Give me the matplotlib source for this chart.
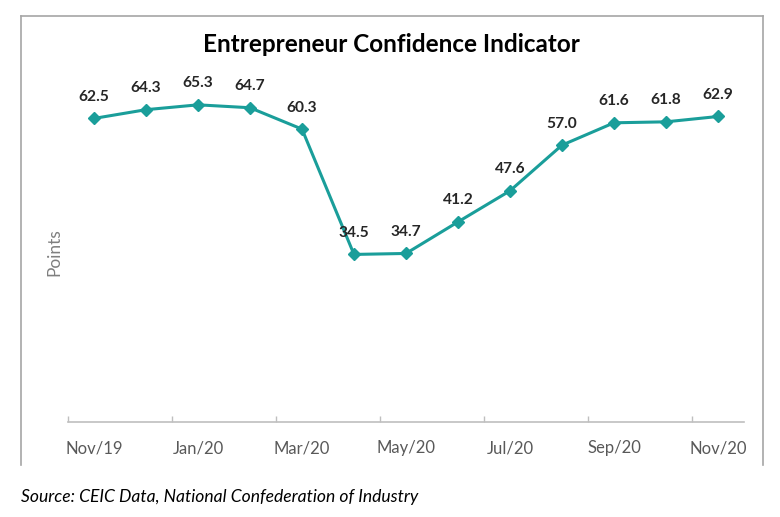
import matplotlib
matplotlib.use("Agg")
import matplotlib.pyplot as plt
from matplotlib.lines import Line2D

months = ["Nov/19", "Dec/19", "Jan/20", "Feb/20", "Mar/20", "Apr/20", "May/20",
          "Jun/20", "Jul/20", "Aug/20", "Sep/20", "Oct/20", "Nov/20"]
values = [62.5, 64.3, 65.3, 64.7, 60.3, 34.5, 34.7, 41.2, 47.6, 57.0, 61.6, 61.8, 62.9]

title = "Entrepreneur Confidence Indicator"
ylabel = "Points"
source = "Source: CEIC Data, National Confederation of Industry"

plt.rcParams['font.family'] = ['Lato', 'DejaVu Sans']

W, H = 780, 517
fig = plt.figure(figsize=(W / 100, H / 100), dpi=100)
ax = fig.add_axes([68 / W, 1 - 422 / H, (744 - 68) / W, (422 - 82) / H])

color = "#1A9E9A"
x = list(range(len(values)))
ax.plot(x, values, color=color, lw=2.2, marker="D", ms=6, mec=color, mfc=color)

for xi, v in zip(x, values):
    ax.annotate(f"{v:.1f}", (xi, v), xytext=(0, 15.5), textcoords="offset points",
                ha="center", va="center", fontsize=11.2, fontweight="bold", color="#262626")

ax.set_xlim(-0.5, len(values) - 0.5)
ax.set_ylim(0, 70)
ax.set_yticks([])
ax.set_xticks([i - 0.5 for i in range(0, len(values), 2)])
ax.set_xticklabels([])
ax.set_xticks(list(range(0, len(values), 2)), minor=True)
ax.set_xticklabels([months[i] for i in range(0, len(values), 2)], minor=True)
ax.tick_params(axis="x", which="major", length=4, color="#BFBFBF", width=1, direction="in")
ax.tick_params(axis="x", which="minor", length=0, pad=13, labelsize=12, labelcolor="#595959")
for s in ["top", "right", "left"]:
    ax.spines[s].set_visible(False)
ax.spines["bottom"].set_color("#BFBFBF")
ax.spines["bottom"].set_linewidth(1.2)

ax.set_ylabel(ylabel, color="#7F7F7F", fontsize=12.5, labelpad=4)

fig.text(391 / W, 1 - 45 / H, title, ha="center", va="center", fontsize=17.5,
         fontweight="bold", color="#000000")
fig.text(21 / W, 1 - 497 / H, source, ha="left", va="center", fontsize=12.6,
         style="italic", color="#000000")

# chart frame (left, top, right)
fc = "#A6A6A6"
fig.add_artist(Line2D([21 / W, 21 / W], [1 - 465 / H, 1 - 16 / H], color=fc, lw=1.2, transform=fig.transFigure))
fig.add_artist(Line2D([21 / W, 763 / W], [1 - 16 / H, 1 - 16 / H], color=fc, lw=1.2, transform=fig.transFigure))
fig.add_artist(Line2D([763 / W, 763 / W], [1 - 465 / H, 1 - 16 / H], color=fc, lw=1.2, transform=fig.transFigure))

fig.savefig("out.png", dpi=100)
